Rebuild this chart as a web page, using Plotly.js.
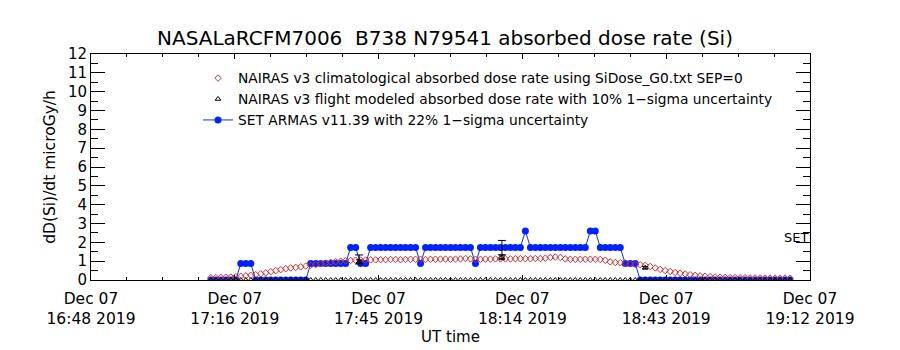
<!DOCTYPE html>
<html>
<head>
<meta charset="utf-8">
<script src="https://cdn.plot.ly/plotly-3.0.1.min.js"></script>
<style>html,body{margin:0;padding:0;background:#fff;}#chart{width:900px;height:350px;}</style>
</head>
<body>
<div id="chart"></div>
<script>
// Minutes after 2019-12-07 16:48:00 UT
const T = [24,25,26,27,28,29,30,31,32,33,34,35,36,37,38,39,40,41,42,43,44,45,46,47,48,49,50,51,52,53,54,55,56,57,58,59,60,61,62,63,64,65,66,67,68,69,70,71,72,73,74,75,76,77,78,79,80,81,82,83,84,85,86,87,88,89,90,91,92,93,94,95,96,97,98,99,100,101,102,103,104,105,106,107,108,109,110,111,112,113,114,115,116,117,118,119,120,121,122,123,124,125,126,127,128,129,130,131,132,133,134,135,136,137,138,139,140];

// SET ARMAS v11.39 (microGy/h)
const armas = [0,0,0,0,0,0,
  0.87,0.87,0.87,
  0,0,0,0,0,0,0,0,0,0,0,
  0.87,0.87,0.87,0.87,0.87,0.87,0.87,0.87,
  1.73,1.73,
  0.87,0.87,
  1.73,1.73,1.73,1.73,1.73,1.73,1.73,1.73,1.73,1.73,
  0.87,
  1.73,1.73,1.73,1.73,1.73,1.73,1.73,1.73,1.73,1.73,
  0.87,
  1.73,1.73,1.73,1.73,1.73,1.73,1.73,1.73,1.73,
  2.6,
  1.73,1.73,1.73,1.73,1.73,1.73,1.73,1.73,1.73,1.73,1.73,1.73,
  2.6,2.6,
  1.73,1.73,1.73,1.73,1.73,
  0.87,0.87,0.87,
  0,0,0,0,0,0,0,0,0,0,0,0,0,0,0,0,0,0,0,0,0,0,0,0,0,0,0,0,0,0,0];

// NAIRAS v3 climatological (microGy/h)
const nairasClim = [0.12,0.13,0.14,0.15,0.16,0.18,0.2,0.22,0.25,0.28,
  0.33,0.38,0.44,0.5,0.55,0.6,0.64,0.67,0.7,0.74,
  0.78,0.82,0.86,0.9,0.94,0.97,1.0,1.02,1.04,1.05,
  1.06,1.06,1.07,1.07,1.08,1.08,1.09,1.09,1.08,1.09,
  1.1,1.1,1.1,1.09,1.1,1.1,1.11,1.11,1.1,1.11,
  1.12,1.14,1.12,1.1,1.1,1.11,1.11,1.12,1.12,1.12,
  1.12,1.13,1.13,1.13,1.13,1.14,1.14,1.16,1.2,1.22,
  1.2,1.12,1.1,1.1,1.1,1.1,1.1,1.1,1.09,1.05,
  0.96,0.93,0.92,0.9,0.86,0.83,0.81,0.78,0.72,0.64,
  0.56,0.5,0.45,0.4,0.36,0.32,0.28,0.25,0.22,0.2,
  0.18,0.16,0.15,0.14,0.13,0.13,0.12,0.12,0.11,0.11,
  0.11,0.1,0.1,0.1,0.1,0.1,0.1];

// NAIRAS v3 flight modeled: baseline samples (no value) and modeled points
const flightBase = [0,0,0,0,0,0,0,0,0,0,0,0,0,0,0,0,0,0,0,0,0,0,0,0,0,0,0,0,0,0,
  0,0,0,0,0,0,0,0,0,0,0,0,0,0,0,0,0,0,0,0,0,0,0,0,0,0,0,0,0,0,
  0,0,0,0,0,0,0,0,0,0,0,0,0,0,0,0,0,0,0,0,0,0,0,0,0,0,0,0,0,0,
  0,0,0,0,0,0,0,0,0,0,0,0,0,0,0,0,0,0,0,0,0,0,0,0,0,0,0];
const flightT = [53.7, 82.3, 111.0];
const flightV = [0.97, 1.2, 0.65];
const flightErr = [0.1, 0.12, 0.065];

// SET ARMAS averaged points with 22% 1-sigma uncertainty
const armasErrT = [53.7, 82.3];
const armasErrV = [1.09, 1.72];
const armasErr = [0.24, 0.38];

// Axis ticks (minutes after 16:48)
const tickMin = [0, 28.8, 57.6, 86.4, 115.2, 144];
const tickLabels = ['Dec 07<br>16:48 2019','Dec 07<br>17:16 2019','Dec 07<br>17:45 2019','Dec 07<br>18:14 2019','Dec 07<br>18:43 2019','Dec 07<br>19:12 2019'];

const base = Date.UTC(2019, 11, 7, 16, 48, 0);
const toDate = m => new Date(base + Math.round(m * 60000)).toISOString().replace('T', ' ').replace('Z', '');

const FONT = 'DejaVu Sans';

const traces = [
  {
    x: T.map(toDate), y: armas, type: 'scatter', mode: 'lines+markers',
    name: 'SET ARMAS v11.39 with 22% 1\u2212sigma uncertainty',
    line: {color: '#1030e0', width: 1},
    marker: {color: '#0022ff', size: 7, symbol: 'circle'},
    legendrank: 3
  },
  {
    x: T.map(toDate), y: nairasClim, type: 'scatter', mode: 'markers',
    name: 'NAIRAS v3 climatological absorbed dose rate using SiDose_G0.txt SEP=0',
    marker: {color: '#c83030', size: 5, symbol: 'diamond-open', line: {width: 1}},
    legendrank: 1
  },
  {
    x: T.map(toDate), y: flightBase, type: 'scatter', mode: 'markers',
    name: 'NAIRAS v3 flight modeled absorbed dose rate with 10% 1\u2212sigma uncertainty',
    marker: {color: '#000', size: 5, symbol: 'triangle-up-open', line: {width: 1}},
    legendrank: 2
  },
  {
    x: flightT.map(toDate), y: flightV, type: 'scatter', mode: 'markers',
    showlegend: false,
    marker: {color: '#000', size: 5, symbol: 'triangle-up-open', line: {width: 1}},
    error_y: {type: 'data', array: flightErr, visible: true, color: '#000', thickness: 1, width: 3}
  },
  {
    x: armasErrT.map(toDate), y: armasErrV, type: 'scatter', mode: 'markers',
    showlegend: false,
    marker: {color: 'rgba(0,0,0,0)', size: 1},
    error_y: {type: 'data', array: armasErr, visible: true, color: '#000', thickness: 1, width: 4}
  }
];

const layout = {
  width: 900, height: 350,
  margin: {l: 91, r: 90, t: 54, b: 70},
  paper_bgcolor: '#fff', plot_bgcolor: '#fff',
  font: {family: FONT, color: '#000', size: 14},
  title: {
    text: 'NASALaRCFM7006 \u00a0B738 N79541 absorbed dose rate (Si)',
    font: {family: FONT, size: 20, color: '#000'},
    x: 445 / 900, xref: 'container', xanchor: 'center',
    y: 1 - 38 / 350, yref: 'container', yanchor: 'middle'
  },
  showlegend: true,
  legend: {
    x: (198 - 91) / 719, xanchor: 'left',
    y: 0.962, yanchor: 'top',
    bgcolor: 'rgba(0,0,0,0)', borderwidth: 0,
    font: {family: FONT, size: 13.8, color: '#000'},
    tracegroupgap: 0, itemclick: false
  },
  xaxis: {
    type: 'date',
    range: [toDate(0), toDate(144)],
    tickmode: 'array',
    tickvals: tickMin.map(toDate),
    ticktext: tickLabels,
    ticks: 'inside', ticklen: 5, tickcolor: '#000', tickwidth: 1,
    ticklabelstandoff: 4,
    minor: {tickmode: 'linear', tick0: toDate(0), dtick: 7.2 * 60000, ticks: 'inside', ticklen: 3, tickcolor: '#000', showgrid: false},
    showline: true, linecolor: '#000', linewidth: 1, mirror: 'ticks',
    showgrid: false, zeroline: false,
    tickfont: {family: FONT, size: 15.5, color: '#000'},
    title: {text: 'UT time', font: {family: FONT, size: 15, color: '#000'}, standoff: 2},
    automargin: false, fixedrange: true
  },
  yaxis: {
    range: [0, 12],
    tickmode: 'linear', tick0: 0, dtick: 1,
    ticks: 'inside', ticklen: 14, tickcolor: '#000', tickwidth: 1,
    minor: {dtick: 0.5, ticks: 'inside', ticklen: 7, tickcolor: '#000', showgrid: false},
    showline: true, linecolor: '#000', linewidth: 1, mirror: 'ticks',
    showgrid: false, zeroline: false,
    tickfont: {family: FONT, size: 15, color: '#000'},
    title: {text: 'dD(Si)/dt microGy/h', font: {family: FONT, size: 15.5, color: '#000'}, standoff: 8},
    automargin: false, fixedrange: true
  },
  annotations: [
    {text: 'SET', xref: 'paper', yref: 'y', x: (782 - 91) / 719, y: 2.28,
     xanchor: 'left', yanchor: 'middle', showarrow: false,
     font: {family: FONT, size: 13, color: '#000'}}
  ]
};

Plotly.newPlot('chart', traces, layout, {staticPlot: true, displayModeBar: false});
</script>
</body>
</html>
